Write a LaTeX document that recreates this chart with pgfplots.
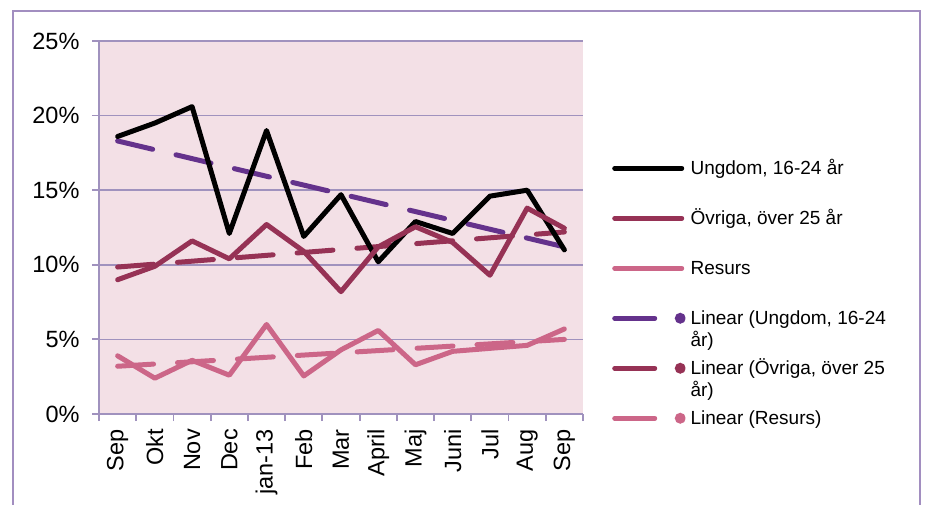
\documentclass[border=0pt]{standalone}
\usepackage{pgfplots}
\pgfplotsset{compat=1.18}
\usepackage{fontspec}
\setmainfont{Liberation Sans}
\definecolor{ovc}{RGB}{150,50,85}
\definecolor{rec}{RGB}{204,102,136}
\definecolor{utc}{RGB}{100,50,140}
\definecolor{bgc}{RGB}{243,224,230}
\definecolor{gridc}{RGB}{160,146,190}
\definecolor{framec}{RGB}{162,142,192}
\begin{document}
\begin{tikzpicture}[x=1pt,y=1pt]
\useasboundingbox (0,0) rectangle (928,505);
\draw[framec, line width=2pt] (13,-10) -- (13,494) -- (920,494) -- (920,-10);
\begin{axis}[
  at={(99pt,91pt)}, anchor=south west,
  width=484pt, height=373pt, scale only axis,
  xmin=-0.5, xmax=12.5, ymin=0, ymax=25,
  axis lines*=left,
  axis line style={gridc, line width=1.8pt},
  axis background/.style={fill=bgc},
  ytick={0,5,...,25},
  ymajorgrids, grid style={gridc, line width=1.6pt},
  yticklabel={\pgfmathprintnumber[assume math mode=true]{\tick}\%},
  xtick={0,...,12},
  xticklabels={Sep,Okt,Nov,Dec,jan-13,Feb,Mar,April,Maj,Juni,Jul,Aug,Sep},
  minor xtick={-0.5,0.5,...,12.5},
  tick align=outside,
  major tick length=7pt, minor tick length=7pt,
  major x tick style={draw=none},
  tick style={gridc, line width=1.8pt},
  x tick label style={yshift=-6pt, rotate=90, anchor=east, font=\fontsize{23.5}{28}\selectfont, inner sep=2pt},
  y tick label style={font=\fontsize{23.5}{28}\selectfont, xshift=-9pt},
  legend cell align=left,
  legend style={at={(axis description cs:1.060,0.713)}, anchor=north west,
    draw=none, fill=none, inner sep=0pt, row sep=10pt, column sep=5pt,
    font=\fontsize{19}{20}\selectfont,
    nodes={text height=26.5pt, text depth=13.5pt, inner sep=0pt}},
  ser/.style={line width=5pt, line cap=round, line join=round,
    legend image code/.code={\draw[##1] (2.5pt,0pt) -- (69.5pt,0pt);}},
  trd/.style={line width=5pt, line cap=round, dash pattern=on 36pt off 24pt,
    legend image code/.code={\draw[##1,solid] (2.5pt,0pt) -- (42.5pt,0pt); \fill[##1] (68pt,0pt) circle (2.8pt);}},
]
% trend lines (drawn first, legend entries added later)
\addplot[trd, utc, forget plot] coordinates {(0,18.3) (12,11.2)};
\addplot[trd, ovc, forget plot] coordinates {(0,9.85) (12,12.2)};
\addplot[trd, rec, forget plot] coordinates {(0,3.2) (12,5.0)};
% series
\addplot[ser, black] coordinates {
(0,18.6) (1,19.5) (2,20.6) (3,12.1) (4,19.0) (5,11.9) (6,14.7)
(7,10.2) (8,12.9) (9,12.1) (10,14.6) (11,15.0) (12,11.0)};
\addlegendentry{Ungdom, 16-24 år}
\addplot[ser, ovc] coordinates {
(0,9.0) (1,9.9) (2,11.6) (3,10.4) (4,12.7) (5,10.9) (6,8.2)
(7,11.2) (8,12.55) (9,11.5) (10,9.3) (11,13.8) (12,12.45)};
\addlegendentry{Övriga, över 25 år}
\addplot[ser, rec] coordinates {
(0,3.9) (1,2.4) (2,3.6) (3,2.6) (4,6.0) (5,2.55) (6,4.3)
(7,5.6) (8,3.3) (9,4.2) (10,4.4) (11,4.6) (12,5.7)};
\addlegendentry{Resurs}
\addlegendimage{trd, utc}
\addlegendentry{\begin{tabular}[t]{@{}l@{}}Linear (Ungdom, 16-24\\år)\end{tabular}}
\addlegendimage{trd, ovc}
\addlegendentry{\begin{tabular}[t]{@{}l@{}}Linear (Övriga, över 25\\år)\end{tabular}}
\addlegendimage{trd, rec}
\addlegendentry{Linear (Resurs)}
\end{axis}
\end{tikzpicture}
\end{document}
